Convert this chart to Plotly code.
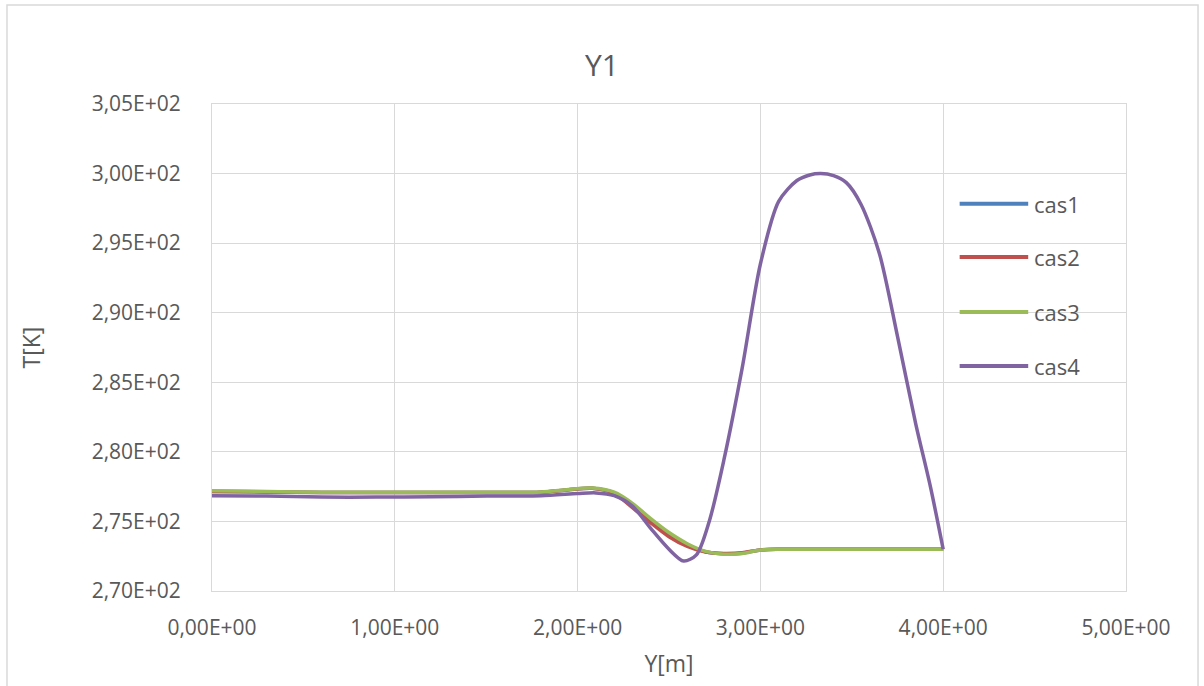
import plotly.graph_objects as go

# Position along the line (m)
y_cas1 = [0.0, 0.3, 0.6, 1.0, 1.5, 1.8, 1.95, 2.08, 2.2, 2.3, 2.4, 2.5, 2.6, 2.7, 2.8, 2.9, 3.0, 3.1, 3.5, 4.0]
t_cas1 = [277.15, 277.12, 277.08, 277.08, 277.08, 277.1, 277.28, 277.38, 277.05, 276.1, 275.0, 274.0, 273.3, 272.82, 272.68, 272.72, 272.95, 273.0, 273.0, 273.0]

y_cas2 = [0.0, 0.3, 0.6, 1.0, 1.5, 1.8, 1.95, 2.08, 2.2, 2.3, 2.4, 2.5, 2.6, 2.7, 2.8, 2.9, 3.0, 3.1, 3.5, 4.0]
t_cas2 = [277.15, 277.12, 277.08, 277.08, 277.08, 277.1, 277.28, 277.38, 277.0, 276.0, 274.9, 273.9, 273.2, 272.8, 272.7, 272.75, 272.95, 273.0, 273.0, 273.0]

y_cas3 = [0.0, 0.3, 0.6, 1.0, 1.5, 1.8, 1.95, 2.08, 2.2, 2.3, 2.4, 2.5, 2.6, 2.7, 2.8, 2.9, 3.0, 3.1, 3.5, 4.0]
t_cas3 = [277.2, 277.15, 277.1, 277.1, 277.1, 277.12, 277.3, 277.4, 277.1, 276.3, 275.2, 274.2, 273.4, 272.85, 272.65, 272.7, 272.95, 273.0, 273.0, 273.0]

y_cas4 = [0.0, 0.3, 0.6, 0.9, 1.2, 1.5, 1.8, 2.0, 2.1, 2.2, 2.3, 2.4, 2.5, 2.58, 2.65, 2.72, 2.8, 2.9, 3.0, 3.1, 3.2, 3.27, 3.33, 3.4, 3.47, 3.55, 3.65, 3.75, 3.85, 3.93, 4.0]
t_cas4 = [276.85, 276.82, 276.75, 276.75, 276.78, 276.82, 276.85, 277.0, 277.05, 276.85, 276.1, 274.5, 273.0, 272.15, 272.6, 275.0, 279.4, 286.0, 293.5, 298.0, 299.5, 299.9, 300.0, 299.85, 299.35, 297.8, 294.3, 288.3, 282.0, 277.5, 273.0]

names = ["cas1", "cas2", "cas3", "cas4"]
colors = ["#4F81BD", "#C0504D", "#9BBB59", "#8064A2"]
xs = [y_cas1, y_cas2, y_cas3, y_cas4]
ys = [t_cas1, t_cas2, t_cas3, t_cas4]

x_ticks = [0, 1, 2, 3, 4, 5]
x_ticktext = ["0,00E+00", "1,00E+00", "2,00E+00", "3,00E+00", "4,00E+00", "5,00E+00"]
y_ticks = [270, 275, 280, 285, 290, 295, 300, 305]
y_ticktext = ["2,70E+02", "2,75E+02", "2,80E+02", "2,85E+02", "2,90E+02", "2,95E+02", "3,00E+02", "3,05E+02"]

FONT = "Open Sans"
TXT = "#595959"
GRID = "#D9D9D9"

fig = go.Figure()
for x, y, n, c in zip(xs, ys, names, colors):
    fig.add_trace(go.Scatter(x=x, y=y, name=n, mode="lines",
                             line=dict(color=c, width=3.5, shape="spline", smoothing=0.8),
                             showlegend=False))

# Legend drawn as line samples and labels inside the plot area
leg_y = [0.795, 0.686, 0.573, 0.462]
for n, c, ly in zip(names, colors, leg_y):
    fig.add_shape(type="line", xref="paper", yref="paper", x0=0.818, x1=0.893, y0=ly, y1=ly,
                  line=dict(color=c, width=4))
    fig.add_annotation(xref="paper", yref="paper", x=0.897, y=ly, text=n, showarrow=False,
                       xanchor="left", yanchor="middle", font=dict(family=FONT, size=22, color=TXT))

# Chart-area border
fig.add_shape(type="rect", xref="paper", yref="paper", x0=-0.2243, x1=1.0788, y0=-0.21, y1=1.2033,
              line=dict(color=GRID, width=1.5), layer="below")

fig.update_layout(
    width=1204, height=686,
    margin=dict(l=212, r=78, t=104, b=95),
    paper_bgcolor="white", plot_bgcolor="white",
    title=dict(text="Y1", x=0.5, xref="container", y=0.905, yref="container",
               xanchor="center", yanchor="middle", font=dict(family=FONT, size=30, color=TXT)),
    font=dict(family=FONT, color=TXT),
)
fig.update_xaxes(range=[0, 5], tickvals=x_ticks, ticktext=x_ticktext, showgrid=True, gridcolor=GRID,
                 zeroline=False, showline=True, linecolor=GRID, mirror=True, ticks="",
                 ticklabelstandoff=18, tickfont=dict(family=FONT, size=21, color=TXT),
                 title=dict(text="Y[m]", font=dict(family=FONT, size=23, color=TXT), standoff=15))
fig.update_yaxes(range=[270, 305], tickvals=y_ticks, ticktext=y_ticktext, showgrid=True, gridcolor=GRID,
                 zeroline=False, showline=True, linecolor=GRID, mirror=True, ticks="",
                 ticklabelstandoff=26, tickfont=dict(family=FONT, size=21, color=TXT),
                 title=dict(text="T[K]", font=dict(family=FONT, size=23, color=TXT), standoff=44))

fig.write_html("out.html")
